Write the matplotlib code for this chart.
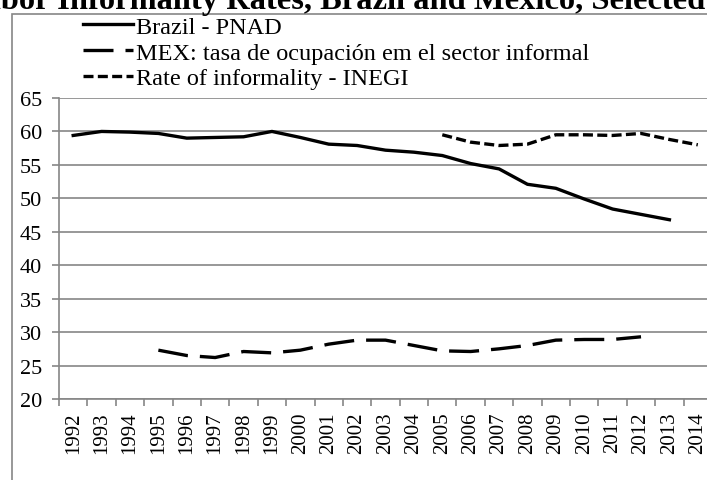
import numpy as np
import matplotlib
matplotlib.use("Agg")
from matplotlib import pyplot as plt
from matplotlib.patches import Rectangle

# ------------------------------------------------------------------------------
# Data
# ------------------------------------------------------------------------------
years = [str(y) for y in range(1992, 2015)]

brazilYears = list(range(1992, 2014))
brazilPnad = [59.4, 60.0, 59.9, 59.7, 59.0, 59.1, 59.2, 60.0, 59.1, 58.1,
              57.9, 57.2, 56.9, 56.4, 55.2, 54.4, 52.1, 51.5, 49.9, 48.4,
              47.6, 46.8]

mexYears = list(range(1995, 2013))
mexInformal = [27.3, 26.5, 26.2, 27.1, 26.9, 27.3, 28.2, 28.8, 28.8, 28.0,
               27.2, 27.1, 27.5, 28.0, 28.8, 28.9, 28.9, 29.3]

inegiYears = list(range(2005, 2015))
inegiRate = [59.5, 58.4, 57.9, 58.1, 59.5, 59.5, 59.4, 59.7, 58.8, 58.0]

labels = ['Brazil - PNAD',
          'MEX: tasa de ocupación em el sector informal',
          'Rate of informality - INEGI']
title = 'Labor Informality Rates, Brazil and Mexico, Selected'

# ------------------------------------------------------------------------------
# Figure setup
# ------------------------------------------------------------------------------
plt.rcParams['font.family'] = ['Liberation Serif', 'DejaVu Serif']
W, H = 707, 481
fig = plt.figure(figsize=(W / 100, H / 100), dpi=100)

gridCol = '#868686'
fs = 15

# outer chart border, runs off the right and bottom edges
fig.patches.append(Rectangle((12 / W, -0.1), 1.2, 1.1 - 14.5 / H,
                             transform=fig.transFigure, fill=False,
                             edgecolor=gridCol, linewidth=1.2))

# title, cut off at top of the image
fig.text(705 / W, 1 - 9 / H, title, ha='right', va='baseline',
         fontsize=23.4, fontweight='bold')

ax = fig.add_axes([59 / W, 81 / H, 653 / W, 301 / H])

def idx(yrs):
    return [y - 1992 for y in yrs]

lw = 2.4
ax.plot(idx(brazilYears), brazilPnad, color='black', lw=lw,
        solid_joinstyle='round', label=labels[0])
ax.plot(idx(mexYears), mexInformal, color='black', lw=lw,
        dashes=(9.0, 3.6), label=labels[1])
ax.plot(idx(inegiYears), inegiRate, color='black', lw=lw,
        dashes=(3.0, 1.3), label=labels[2])

ax.set_ylim(20, 65)
ax.set_yticks(np.arange(20, 66, 5))
ax.set_xlim(-0.5, len(years) - 0.5)
ax.set_xticks(np.arange(-0.5, len(years), 1.0))
ax.set_xticklabels([])
ax.set_xticks(np.arange(len(years)), minor=True)
ax.set_xticklabels(years, minor=True, rotation=90, fontsize=fs)

ax.yaxis.grid(True, color=gridCol, linewidth=1.2)
ax.set_axisbelow(True)
for s in ['top', 'right']:
    ax.spines[s].set_visible(False)
for s in ['left', 'bottom']:
    ax.spines[s].set_color(gridCol)
    ax.spines[s].set_linewidth(1.2)

ax.tick_params(axis='y', direction='out', length=5, width=1.2, color=gridCol,
               pad=7, labelsize=16)
ax.tick_params(axis='x', which='major', direction='out', length=5, width=1.2,
               color=gridCol)
ax.tick_params(axis='x', which='minor', length=0, pad=9)

fig.legend(loc='upper left', bbox_to_anchor=(78 / W, 1 - 12 / H),
           frameon=False, fontsize=17.5, handlelength=2.05, handletextpad=0.12,
           labelspacing=0.15, borderaxespad=0, borderpad=0.2)

fig.savefig('out.png', dpi=100)
